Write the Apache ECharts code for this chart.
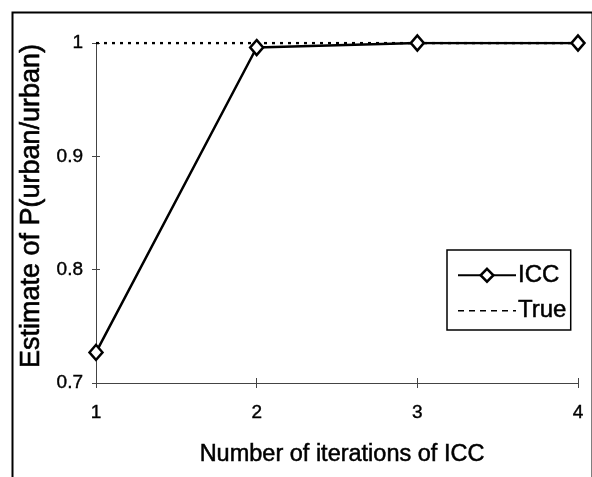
<!DOCTYPE html>
<html>
<head>
<meta charset="utf-8">
<script src="https://cdn.jsdelivr.net/npm/echarts@6/dist/echarts.min.js"></script>
<style>
html,body{margin:0;padding:0;background:#fff;}
#chart{width:592px;height:477px;}
</style>
</head>
<body>
<div id="chart"></div>
<script>
var iterations = [1, 2, 3, 4];
var iccValues = [0.727, 0.996, 1.0, 1.0];
var trueValues = [1.0, 1.0, 1.0, 1.0];
var seriesNames = ['ICC', 'True'];
var xTitle = 'Number of iterations of ICC';
var yTitle = 'Estimate of P(urban/urban)';

var FONT = "'Liberation Sans', Arial, sans-serif";

function pairs(xs, ys) {
  return xs.map(function (x, i) { return [x, ys[i]]; });
}

var chart = echarts.init(document.getElementById('chart'), null, { renderer: 'canvas' });

var option = {
  backgroundColor: '#ffffff',
  animation: false,
  grid: { left: 96, right: 14, top: 43, bottom: 94, containLabel: false },
  xAxis: [{
    type: 'value', min: 1, max: 4, interval: 1,
    axisLine: { show: true, lineStyle: { color: '#444', width: 1 } },
    axisTick: { show: true, length: 5, lineStyle: { color: '#444' } },
    axisLabel: { color: '#000', fontSize: 19, fontFamily: FONT, margin: 20,
      textBorderColor: '#000', textBorderWidth: 0.4 },
    splitLine: { show: false }
  }, {
    type: 'value', min: 1, max: 4, interval: 1, position: 'bottom',
    axisLine: { show: false },
    axisTick: { show: true, inside: true, length: 5, lineStyle: { color: '#444' } },
    axisLabel: { show: false },
    splitLine: { show: false }
  }],
  yAxis: [{
    type: 'value', min: 0.7, max: 1, interval: 0.1,
    axisLine: { show: true, lineStyle: { color: '#444', width: 1 } },
    axisTick: { show: true, length: 4, lineStyle: { color: '#444' } },
    axisLabel: { color: '#000', fontSize: 19, fontFamily: FONT, margin: 13,
      textBorderColor: '#000', textBorderWidth: 0.4,
      formatter: function (v) { return String(Math.round(v * 10) / 10); } },
    splitLine: { show: false }
  }, {
    type: 'value', min: 0.7, max: 1, interval: 0.1, position: 'left',
    axisLine: { show: false },
    axisTick: { show: true, inside: true, length: 4, lineStyle: { color: '#444' } },
    axisLabel: { show: false },
    splitLine: { show: false }
  }],
  legend: {
    orient: 'vertical',
    left: 447, top: 250,
    padding: [13, 4, 7, 10],
    itemGap: 11,
    itemWidth: 58,
    itemHeight: 16,
    borderColor: '#000',
    borderWidth: 1.5,
    backgroundColor: '#fff',
    textStyle: { color: '#000', fontSize: 24, fontFamily: FONT, padding: [0, 0, 0, -3],
      textBorderColor: '#000', textBorderWidth: 0.5 },
    data: [
      { name: seriesNames[0],
        lineStyle: { width: 2, color: '#000' },
        itemStyle: { color: '#fff', borderColor: '#000', borderWidth: 2.5 } },
      { name: seriesNames[1],
        itemStyle: { color: 'rgba(0,0,0,0)', borderColor: 'rgba(0,0,0,0)', opacity: 0 },
        lineStyle: { type: [6, 5], width: 1.5, color: '#000' } }
    ]
  },
  graphic: [
    { type: 'rect', left: 10, top: 10, silent: true,
      shape: { x: 0, y: 0, width: 580, height: 500 },
      style: { fill: 'none', stroke: '#000', lineWidth: 2 } },
    { type: 'text', x: 342, y: 455, silent: true,
      style: { text: xTitle, fill: '#000', font: "23.5px " + FONT, align: 'center', verticalAlign: 'middle',
        stroke: '#000', lineWidth: 0.5 } },
    { type: 'text', x: 32, y: 206, rotation: Math.PI / 2, silent: true,
      style: { text: yTitle, fill: '#000', font: "27px " + FONT, align: 'center', verticalAlign: 'middle',
        stroke: '#000', lineWidth: 0.6 } }
  ],
  series: [
    {
      name: 'True', type: 'line',
      data: pairs(iterations, trueValues),
      showSymbol: false, symbol: 'none',
      lineStyle: { color: '#000', width: 2.5, type: [3, 5] },
      itemStyle: { color: '#000' },
      z: 2
    },
    {
      name: 'ICC', type: 'line',
      data: pairs(iterations, iccValues),
      symbol: 'diamond', symbolSize: [13, 15],
      lineStyle: { color: '#000', width: 2.5 },
      itemStyle: { color: '#fff', borderColor: '#000', borderWidth: 2.5 },
      z: 3
    }
  ]
};
chart.setOption(option);
</script>
</body>
</html>
